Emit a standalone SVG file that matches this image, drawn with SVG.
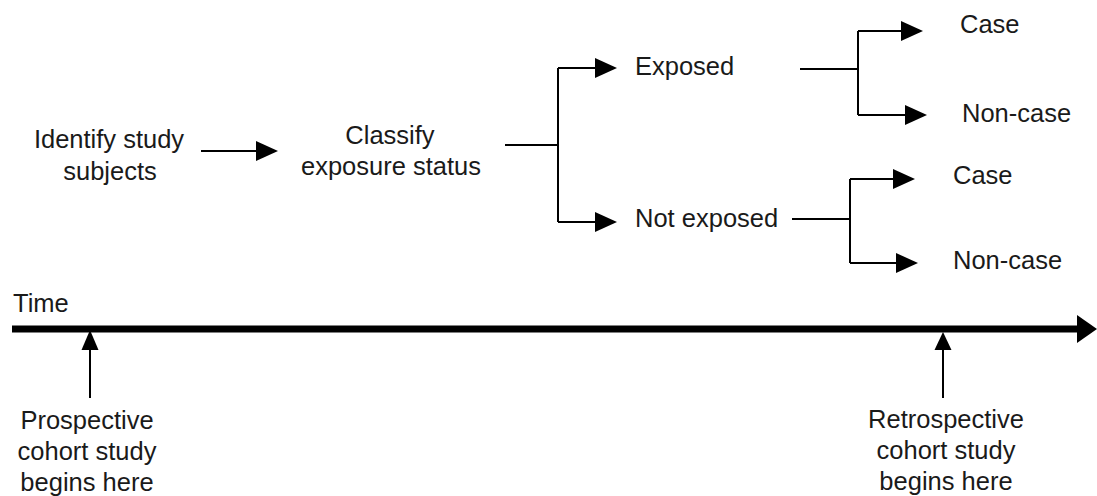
<svg xmlns="http://www.w3.org/2000/svg" width="1097" height="496" viewBox="0 0 1097 496">
<style>
text { font-family: "Liberation Sans", Arial, sans-serif; font-size: 25.5px; fill: #1a1a1a; }
.c { text-anchor: middle; }
.ln { stroke: #000; stroke-width: 2; fill: none; }
.ar { stroke: #000; stroke-width: 2; fill: none; marker-end: url(#ah); }
</style>
<defs>
<marker id="ah" markerUnits="userSpaceOnUse" markerWidth="22" markerHeight="20" refX="0" refY="10" orient="auto" overflow="visible">
<path d="M0,0 L22,10 L0,20 Z" fill="#000"/>
</marker>
</defs>
<rect width="1097" height="496" fill="#fff"/>
<g id="connectors">
<path class="ar" d="M201,151 H256"/>
<path class="ln" d="M505,145 H558 M558,68 V222"/>
<path class="ar" d="M558,68 H595"/>
<path class="ar" d="M558,222 H595"/>
<path class="ln" d="M800,69 H858 M858,31 V115"/>
<path class="ar" d="M858,31 H901"/>
<path class="ar" d="M858,115 H905"/>
<path class="ln" d="M792,219 H850 M850,179 V263"/>
<path class="ar" d="M850,179 H893"/>
<path class="ar" d="M850,263 H896"/>
</g>
<g id="timeline">
<path d="M12,329 H1078" stroke="#000" stroke-width="7" fill="none"/>
<polygon points="1077,315 1097,329 1077,343" fill="#000"/>
<text x="13" y="312">Time</text>
</g>
<g id="prospective-arrow">
<path class="ln" d="M90,398 V349"/>
<polygon points="81.5,350 90,330 98.5,350" fill="#000"/>
</g>
<g id="retrospective-arrow">
<path class="ln" d="M943,398 V349"/>
<polygon points="934.5,350 943,332 951.5,350" fill="#000"/>
</g>
<g id="identify"><text class="c" x="109" y="148">Identify study</text><text class="c" x="110" y="180">subjects</text></g>
<g id="classify"><text class="c" x="390" y="144">Classify</text><text class="c" x="391" y="175">exposure status</text></g>
<g id="exposed"><text x="635" y="75">Exposed</text></g>
<g id="not-exposed"><text x="635" y="227">Not exposed</text></g>
<g id="case-1"><text x="960" y="33">Case</text></g>
<g id="noncase-1"><text x="962" y="122">Non-case</text></g>
<g id="case-2"><text x="953" y="184">Case</text></g>
<g id="noncase-2"><text x="953" y="269">Non-case</text></g>
<g id="prospective"><text class="c" x="87" y="429">Prospective</text><text class="c" x="87" y="460">cohort study</text><text class="c" x="87" y="491">begins here</text></g>
<g id="retrospective"><text class="c" x="946" y="428">Retrospective</text><text class="c" x="946" y="459">cohort study</text><text class="c" x="946" y="490">begins here</text></g>
</svg>
